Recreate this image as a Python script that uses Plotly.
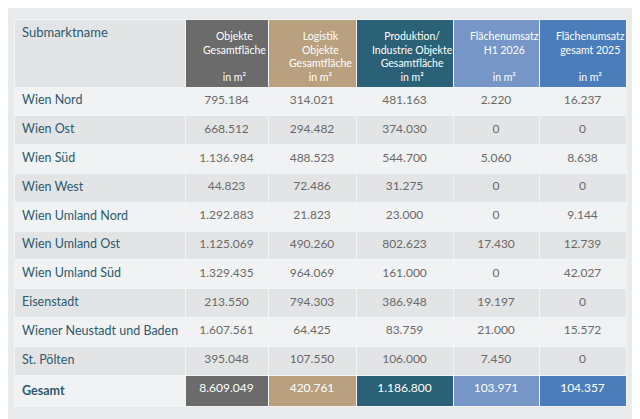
import plotly.graph_objects as go

submarkets = ["Wien Nord", "Wien Ost", "Wien Süd", "Wien West", "Wien Umland Nord",
              "Wien Umland Ost", "Wien Umland Süd", "Eisenstadt",
              "Wiener Neustadt und Baden", "St. Pölten"]
objekte = [795184, 668512, 1136984, 44823, 1292883, 1125069, 1329435, 213550, 1607561, 395048]
logistik = [314021, 294482, 488523, 72486, 21823, 490260, 964069, 794303, 64425, 107550]
produktion = [481163, 374030, 544700, 31275, 23000, 802623, 161000, 386948, 83759, 106000]
umsatz_h1_2026 = [2220, 0, 5060, 0, 0, 17430, 0, 19197, 21000, 7450]
umsatz_2025 = [16237, 0, 8638, 0, 9144, 12739, 42027, 0, 15572, 0]
totals = [8609049, 420761, 1186800, 103971, 104357]

headers = ["Submarktname",
           "Objekte<br>Gesamtfläche<br> <br>in m²",
           "Logistik<br>Objekte<br>Gesamtfläche<br>in m²",
           "Produktion/<br>Industrie Objekte<br>Gesamtfläche<br>in m²",
           "Flächenumsatz<br>H1 2026<br> <br>in m²",
           "Flächenumsatz<br>gesamt 2025<br> <br>in m²"]

def fmt(v):
    return f"{v:,}".replace(",", ".")

head_colors = ["#e3e4e5", "#6b6b6b", "#b9a07f", "#2b6176", "#7696c7", "#4a7db9"]
light, dark = "#f1f2f3", "#e3e4e5"
teal_text = "#2c5b6f"
num_text = "#6a6a6a"
col_widths = [171, 83, 88, 97, 86, 87]

W, H = 640, 419
left_px, top_px = 14, 19       # where the table should appear
offset = 8                     # plotly table inner offset

n = len(submarkets)
row_bg = [light if i % 2 == 0 else dark for i in range(n)]

num_cols = [objekte, logistik, produktion, umsatz_h1_2026, umsatz_2025]
cell_values = [[s.replace(" ", "\u00a0") for s in submarkets] + ["<b>Gesamt</b>"]]
fills = [row_bg + [light]]
fcolors = [[teal_text] * (n + 1)]
for j, col in enumerate(num_cols):
    cell_values.append([fmt(v) for v in col] + [fmt(totals[j])])
    fills.append(row_bg + [head_colors[j + 1]])
    fcolors.append([num_text] * n + ["white"])

total_w = sum(col_widths)
fig = go.Figure(go.Table(
    domain=dict(x=[(left_px - offset) / W, (left_px - offset + total_w) / W],
                y=[0, 1 - (top_px - offset) / H]),
    columnwidth=col_widths,
    header=dict(
        values=[headers[0]] + [""] * (len(headers) - 1),
        fill_color=head_colors,
        line=dict(color="#f4f4f5", width=1),
        align="left",
        font=dict(family="Lato", size=13, color=teal_text),
        height=68,
    ),
    cells=dict(
        values=cell_values,
        fill_color=fills,
        line=dict(color="#f4f4f5", width=1),
        align=["left", "center", "center", "center", "center", "center"],
        font=dict(family="Lato", size=[12.5, 12, 12, 12, 12, 12], color=fcolors),
        height=28.8,
    ),
))

# centred multi-line header labels
x0 = left_px
for j, w in enumerate(col_widths):
    if j > 0:
        fig.add_annotation(
            x=(x0 + w / 2) / W, y=1 - 20 / H, xref="paper", yref="paper",
            xanchor="center", yanchor="top", align="center",
            text=headers[j], showarrow=False,
            font=dict(family="Lato", size=10.5, color="white"),
        )
    x0 += w

fig.update_layout(
    width=W, height=H,
    margin=dict(l=0, r=0, t=0, b=0),
    paper_bgcolor="#e9eaec",
    font=dict(family="Lato"),
)

fig.write_html("out.html")
